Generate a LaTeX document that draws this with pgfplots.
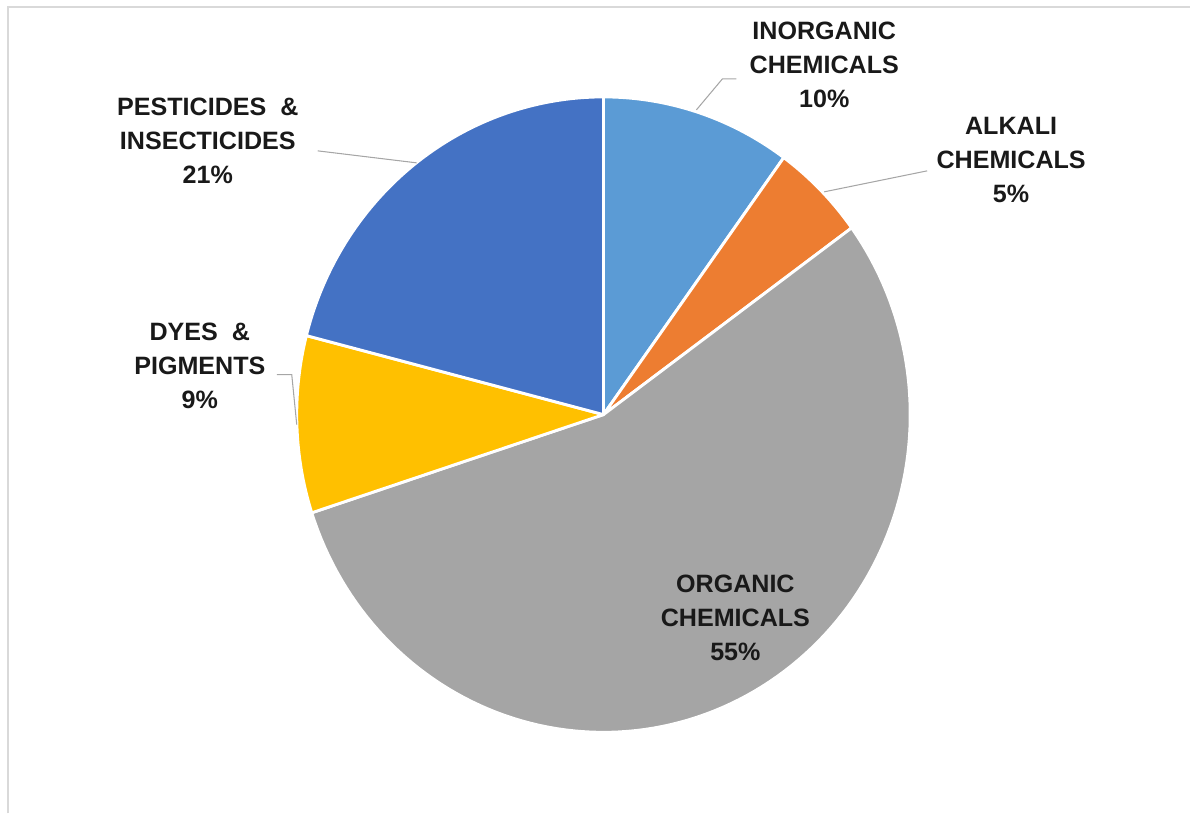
\documentclass[border=0pt]{standalone}
\usepackage{fontspec}
\setmainfont{Liberation Sans}
\usepackage{pgfplots}
\pgfplotsset{compat=1.18}

\definecolor{cInorg}{HTML}{5B9BD5}
\definecolor{cAlkali}{HTML}{ED7D31}
\definecolor{cOrg}{HTML}{A5A5A5}
\definecolor{cDyes}{HTML}{FFC000}
\definecolor{cPest}{HTML}{4472C4}
\definecolor{cLead}{HTML}{A6A6A6}
\definecolor{cFrame}{HTML}{D9D9D9}

\tikzset{lbl/.style={font=\fontsize{9.6}{13}\selectfont\bfseries,
    align=center, inner sep=0pt, text=black!90}}

% pie centre and radii in pixel units of the 1191x814 canvas
\newcommand\cx{604}
\newcommand\cy{415}
% #1 = share before this slice (%), #2 = share of this slice (%), #3 = colour
\newcommand\slice[3]{%
  \addplot[fill=#3, draw=white, line width=1.1pt, line join=round,
    domain={90-3.6*(#1+#2)}:{90-3.6*#1}, samples=120]
    ({\cx+307*cos(x)}, {\cy-318*sin(x)}) -- (axis cs:\cx,\cy) -- cycle;}

\begin{document}
\begin{tikzpicture}
\begin{axis}[
  width=16cm, height=10.935cm, scale only axis,
  xmin=0, xmax=1191, ymin=0, ymax=814, y dir=reverse,
  hide axis, clip=false,
]
\path (axis cs:0,0) rectangle (axis cs:1191,814);
\draw[cFrame, line width=0.8pt] (axis cs:8,814) -- (axis cs:8,7) -- (axis cs:1191,7);

% shares: inorganic 10, alkali 5, organic 55, dyes 9, pesticides 21
\slice{0}{10}{cInorg}
\slice{10}{5}{cAlkali}
\slice{15}{55}{cOrg}
\slice{70}{9}{cDyes}
\slice{79}{21}{cPest}

% leader lines
\draw[cLead, line width=0.4pt] (axis cs:697,110) -- (axis cs:723,79) -- (axis cs:737,79);
\draw[cLead, line width=0.4pt] (axis cs:825,192) -- (axis cs:928,171);
\draw[cLead, line width=0.4pt] (axis cs:318,151) -- (axis cs:417,163);
\draw[cLead, line width=0.4pt] (axis cs:277,375) -- (axis cs:292,375) -- (axis cs:297,425);

% labels
\node[lbl] at (axis cs:825,65) {INORGANIC\\CHEMICALS\\10\%};
\node[lbl] at (axis cs:1012,160) {ALKALI\\CHEMICALS\\5\%};
\node[lbl] at (axis cs:208,141) {PESTICIDES \ \&\\INSECTICIDES\\21\%};
\node[lbl] at (axis cs:200,366) {DYES \ \&\\PIGMENTS\\9\%};
\node[lbl] at (axis cs:736,618) {ORGANIC\\CHEMICALS\\55\%};
\end{axis}
\end{tikzpicture}
\end{document}
